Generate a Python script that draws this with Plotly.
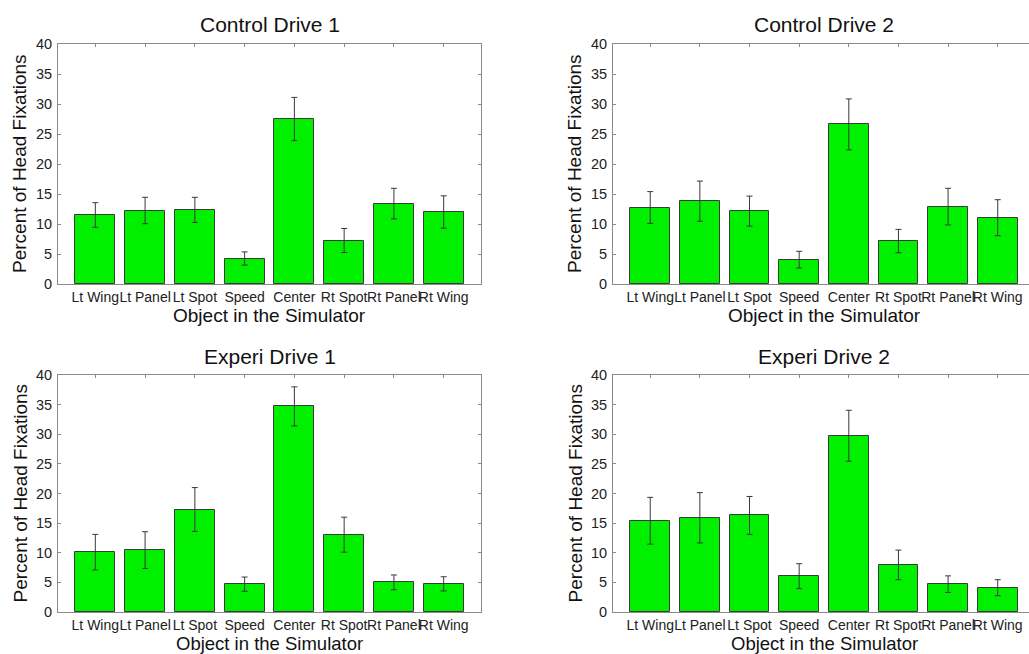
import plotly.graph_objects as go

categories = ["Lt Wing", "Lt Panel", "Lt Spot", "Speed", "Center", "Rt Spot", "Rt Panel", "Rt Wing"]
positions = [1, 2, 3, 4, 5, 6, 7, 8]

titles = ["Control Drive 1", "Control Drive 2", "Experi Drive 1", "Experi Drive 2"]

control1_vals = [11.5, 12.25, 12.35, 4.25, 27.5, 7.25, 13.4, 12.0]
control1_err = [2.05, 2.2, 2.1, 1.1, 3.6, 2.0, 2.55, 2.7]

control2_vals = [12.75, 13.8, 12.15, 4.05, 26.6, 7.15, 12.9, 11.05]
control2_err = [2.65, 3.35, 2.5, 1.4, 4.25, 1.95, 3.05, 3.0]

experi1_vals = [10.1, 10.45, 17.3, 4.7, 34.7, 13.05, 5.0, 4.75]
experi1_err = [3.0, 3.1, 3.7, 1.2, 3.3, 2.95, 1.25, 1.2]

experi2_vals = [15.4, 15.9, 16.3, 6.05, 29.75, 7.95, 4.7, 4.1]
experi2_err = [3.95, 4.25, 3.2, 2.1, 4.3, 2.5, 1.4, 1.35]

y_ticks = [0, 5, 10, 15, 20, 25, 30, 35, 40]

series = [
    (control1_vals, control1_err),
    (control2_vals, control2_err),
    (experi1_vals, experi1_err),
    (experi2_vals, experi2_err),
]

W, H = 1029, 654
FONT = "Arial, Liberation Sans, sans-serif"
AXIS_GRAY = "#8a8a8a"

# pixel layout of each panel: (left, right, top, bottom, xmax)
panels = [
    (58, 481, 44, 284, 8.75),
    (613, 1029, 44, 284, 8.63),
    (58, 481, 375, 612, 8.75),
    (613, 1029, 375, 612, 8.63),
]
# full (virtual) axis width used for centering texts
centers_x = [269.5, 824, 269.5, 824]
ytitle_x = [20, 575, 20, 575]
xtitle_y = [315, 315, 643, 643]
xtitle_size = [19, 19, 18.5, 18.5]

fig = go.Figure()
annotations = []

for i, ((vals, errs), (l, r, t, b, xmax)) in enumerate(zip(series, panels)):
    n = "" if i == 0 else str(i + 1)
    fig.add_trace(go.Bar(
        x=positions, y=vals,
        width=0.8,
        marker=dict(color="#00f000", line=dict(color="#3a3a3a", width=1)),
        error_y=dict(type="data", array=errs, visible=True,
                     color="#3a3a3a", thickness=1, width=3),
        xaxis="x" + n, yaxis="y" + n,
        showlegend=False,
    ))
    xdom = [l / W, r / W]
    ydom = [1 - b / H, 1 - t / H]
    right_col = i % 2 == 1
    fig.layout["xaxis" + n] = dict(
        domain=xdom, anchor="y" + n, range=[0.25, xmax],
        tickmode="array", tickvals=positions, ticktext=categories,
        tickangle=0, ticks="inside", ticklen=3, tickcolor=AXIS_GRAY,
        showline=True, linecolor=AXIS_GRAY, linewidth=1, mirror="ticks",
        showgrid=False, zeroline=False, layer="below traces",
        tickfont=dict(family=FONT, size=14, color="#222222"),
        automargin=False,
        fixedrange=True,
    )
    fig.layout["yaxis" + n] = dict(
        domain=ydom, anchor="x" + n, range=[0, 40],
        tickmode="array", tickvals=y_ticks,
        ticks="inside", ticklen=3, tickcolor=AXIS_GRAY,
        showline=True, linecolor=AXIS_GRAY, linewidth=1,
        mirror=False if right_col else "ticks",
        showgrid=False, zeroline=False, layer="below traces",
        tickfont=dict(family=FONT, size=14.5, color="#222222"),
        ticklabelstandoff=2,
        automargin=False,
        fixedrange=True,
    )
    cx = centers_x[i] / W
    annotations.append(dict(
        text=titles[i], x=cx, y=1 - (t - 19) / H, xref="paper", yref="paper",
        xanchor="center", yanchor="middle", showarrow=False,
        font=dict(family=FONT, size=21, color="#111111"),
    ))
    annotations.append(dict(
        text="Object in the Simulator", x=cx, y=1 - xtitle_y[i] / H,
        xref="paper", yref="paper", xanchor="center", yanchor="middle",
        showarrow=False, font=dict(family=FONT, size=xtitle_size[i], color="#111111"),
    ))
    annotations.append(dict(
        text="Percent of Head Fixations", x=ytitle_x[i] / W,
        y=1 - ((t + b) / 2) / H, xref="paper", yref="paper",
        xanchor="center", yanchor="middle", textangle=-90, showarrow=False,
        font=dict(family=FONT, size=19, color="#111111"),
    ))

fig.update_layout(
    width=W, height=H,
    margin=dict(l=0, r=0, t=0, b=0, autoexpand=False),
    paper_bgcolor="white", plot_bgcolor="white",
    annotations=annotations,
    bargap=0,
)

fig.write_html("out.html", config={"displayModeBar": False})
